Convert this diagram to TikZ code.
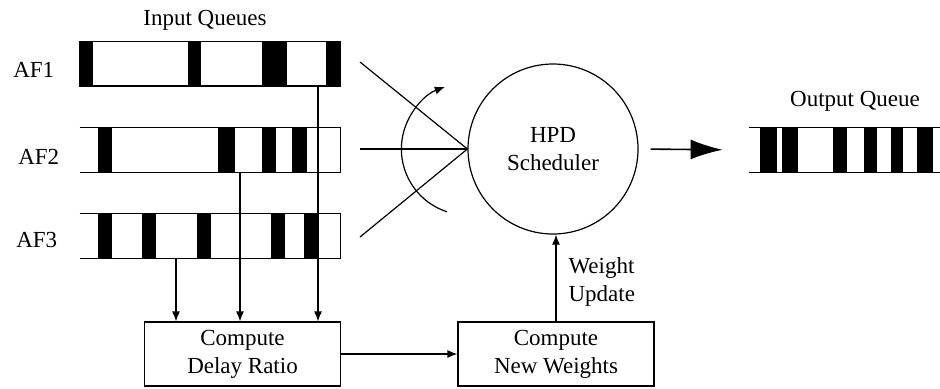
\documentclass[tikz,border=0pt]{standalone}
\usepackage{fontspec}
\setmainfont{Liberation Serif}
\usetikzlibrary{arrows.meta, positioning, calc}

\begin{document}
\begin{tikzpicture}[
    x=0.5pt, y=0.5pt,
    font=\fontsize{11.5}{14}\selectfont,
    every node/.style={inner sep=0pt},
    line/.style={line width=0.6pt},
    queue/.style={minimum width=130pt, minimum height=22pt},
    box/.style={draw, line width=0.6pt, align=center, minimum width=98pt, minimum height=32pt},
    arrow/.style={-{Latex[length=5pt, width=4pt]}, line width=0.6pt},
    bigarrow/.style={-{Latex[length=16pt, width=10pt]}, line width=0.8pt}
]
    \useasboundingbox (0,0) rectangle (940,388);

    % --- queues ---
    \node [queue] (q1) at (210,324.5) {};
    \node [queue] (q2) at (210,238) {};
    \node [queue] (q3) at (210,152) {};
    \node [queue, minimum width=98pt] (oq) at (847,238) {};

    \node (inq) [above=5pt of q1, xshift=-2.5pt] {Input Queues};
    \node (outq) [above=8pt of oq, xshift=4pt] {Output Queue};
    \node (af1) [left=12.5pt of q1, yshift=-3pt] {AF1};
    \node (af2) [left=10pt of q2, yshift=-3.5pt] {AF2};
    \node (af3) [left=11pt of q3, yshift=-2pt] {AF3};

    \draw [line] (q1.south west) rectangle (q1.north east);
    \draw [line] (q2.north west) -- (q2.north east) -- (q2.south east) -- (q2.south west);
    \draw [line] (q3.north west) -- (q3.north east) -- (q3.south east) -- (q3.south west);
    \draw [line] (oq.north west) -- (oq.north east);
    \draw [line] (oq.south west) -- (oq.south east);

    % packets
    \foreach \a/\b in {80/93, 188/201, 262/287, 326/340}
        \fill (\a,302.5) rectangle (\b,346.5);
    \foreach \a/\b in {98/112, 218/235, 262/276, 292/307}
        \fill (\a,216) rectangle (\b,260);
    \foreach \a/\b in {98/112, 142/156, 197/211, 271/285, 304/318}
        \fill (\a,130) rectangle (\b,174);
    \foreach \a/\b in {760/777, 782/798, 833/847, 864/877, 891/903, 917/933}
        \fill (\a,216) rectangle (\b,260);

    % --- scheduler and boxes ---
    \node [circle, draw, line width=0.6pt, minimum size=85pt, align=center] (sched) at (553,239) {HPD\\Scheduler};
    \node [box] (cdr) at (242.5,34) {Compute\\Delay Ratio};
    \node [box] (cnw) at (556,34) {Compute\\New Weights};

    \coordinate (in1) at (360,326);
    \coordinate (in2) at (360,239);
    \coordinate (in3) at (360,151);

    % --- connectors ---
    \draw [line] (in1) -- (sched.west);
    \draw [line] (in2) -- (sched.west);
    \draw [line] (in3) -- (sched.west);
    \draw [arrow] ([shift={(252:66)}]sched.west) arc[start angle=252, end angle=110, radius=66];

    \draw [arrow] ([xshift=54pt]q1.south) -- ([xshift=54pt]q1.south |- cdr.north);
    \draw [arrow] ([xshift=15pt]q2.south) -- ([xshift=15pt]q2.south |- cdr.north);
    \draw [arrow] ([xshift=-17pt]q3.south) -- ([xshift=-17pt]q3.south |- cdr.north);

    \draw [arrow] (cdr) -- (cnw);
    \draw [arrow] (cnw.north) -- node[right=6pt, yshift=-2pt, align=left] {Weight\\Update} (cnw.north |- sched.south);
    \draw [bigarrow, shorten <=6pt, shorten >=13pt] (sched.east) -- (oq.west);

\end{tikzpicture}
\end{document}
